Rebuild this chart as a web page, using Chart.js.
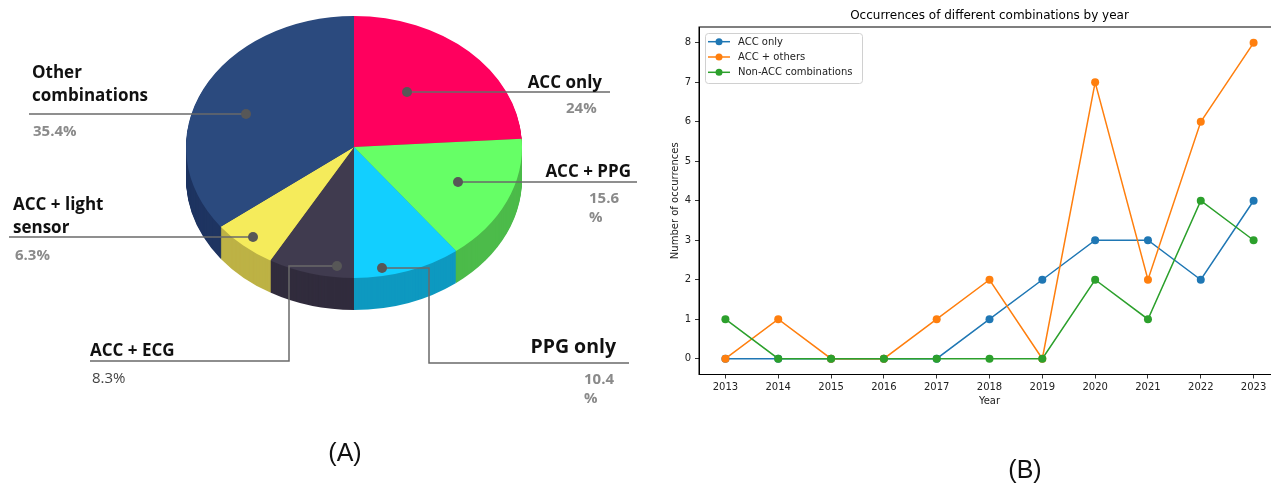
<!DOCTYPE html>
<html>
<head>
<meta charset="utf-8">
<script src="https://cdn.jsdelivr.net/npm/chart.js@4"></script>
<style>
  html, body { margin: 0; padding: 0; background: #fff; overflow: hidden; }
  body { width: 1271px; height: 486px; position: relative; }
  #pieBox { position: absolute; left: 0; top: 0; width: 660px; height: 486px; }
  #lineBox { position: absolute; left: 660px; top: 0; width: 640px; height: 486px; }
  .panel { position: absolute; font-family: "Liberation Sans", Arial, sans-serif; font-size: 25px; color: #111; transform: translate(-50%, -50%); }
</style>
</head>
<body>
<div id="pieBox"><canvas id="pieChart"></canvas></div>
<div id="lineBox"><canvas id="lineChart"></canvas></div>
<div class="panel" style="left:345px; top:452px">(A)</div>
<div class="panel" style="left:1025px; top:469px">(B)</div>
<script>
// ---- data (A) ----
const pieLabels = ['ACC only', 'ACC + PPG', 'PPG only', 'ACC + ECG', 'ACC + light sensor', 'Other combinations'];
const pieShares = [24, 15.6, 10.4, 8.3, 6.3, 35.4];

// ---- data (B) ----
const years = ['2013', '2014', '2015', '2016', '2017', '2018', '2019', '2020', '2021', '2022', '2023'];
const accOnly = [0, 0, 0, 0, 0, 1, 2, 3, 3, 2, 4];
const accOthers = [0, 1, 0, 0, 1, 2, 0, 7, 2, 6, 8];
const nonAcc = [1, 0, 0, 0, 0, 0, 0, 2, 1, 4, 3];
const yTicks = [0, 1, 2, 3, 4, 5, 6, 7, 8];

// pie look
const topColors = ['#FF005E', '#66FF66', '#12CFFF', '#403B4F', '#F5EB5B', '#2B4A7E'];
const sideColors = ['#B8003F', '#4CBB4A', '#0E99C0', '#312C3D', '#BDB245', '#1E3461'];
const PIE_CY = 147;   // screen centre of the top face
const SQUASH = 0.78;  // ellipse ratio
const DEPTH = 32;

// callout layout: label text, where dots / leader lines / texts go
const callouts = [
  { dot: [407, 92], path: [[407, 92], [610, 92]], text: ['ACC only'], tx: 602, ty: [88], align: 'right', px: 566, py: [113] },
  { dot: [458, 182], path: [[458, 182], [637, 182]], text: ['ACC + PPG'], tx: 631, ty: [177], align: 'right', px: 589, py: [203, 222], wrap: true },
  { dot: [382, 268], path: [[382, 268], [429, 268], [429, 363], [629, 363]], text: ['PPG only'], tx: 616, ty: [353], align: 'right', size: 19.5, px: 584, py: [384, 403], wrap: true },
  { dot: [337, 266], path: [[337, 266], [289, 266], [289, 361], [90, 361]], text: ['ACC + ECG'], tx: 90, ty: [356], align: 'left', px: 92, py: [383], plain: true },
  { dot: [253, 237], path: [[253, 237], [9, 237]], text: ['ACC + light', 'sensor'], tx: 13, ty: [210, 233], align: 'left', px: 15, py: [260] },
  { dot: [246, 114], path: [[246, 114], [29, 114]], text: ['Other', 'combinations'], tx: 32, ty: [78, 101], align: 'left', px: 33, py: [136] }
];

const pie3d = {
  id: 'pie3d',
  beforeDatasetsDraw(chart) {
    const ctx = chart.ctx;
    const arcs = chart.getDatasetMeta(0).data;
    const cy = arcs[0].y;
    ctx.save();
    for (let d = DEPTH; d > 0; d--) {
      ctx.save();
      ctx.translate(0, PIE_CY + d);
      ctx.scale(1, SQUASH);
      ctx.translate(0, -cy);
      arcs.forEach((a, i) => {
        ctx.beginPath();
        ctx.moveTo(a.x, a.y);
        ctx.arc(a.x, a.y, a.outerRadius, a.startAngle, a.endAngle);
        ctx.closePath();
        ctx.fillStyle = sideColors[i];
        ctx.fill();
      });
      ctx.restore();
    }
    // top face is drawn by chart.js under this transform
    ctx.translate(0, PIE_CY);
    ctx.scale(1, SQUASH);
    ctx.translate(0, -cy);
  },
  afterDatasetsDraw(chart) {
    chart.ctx.restore();
  },
  afterDraw(chart) {
    const ctx = chart.ctx;
    ctx.save();
    callouts.forEach((c, i) => {
      ctx.strokeStyle = '#6a6a6a';
      ctx.lineWidth = 1.5;
      ctx.beginPath();
      c.path.forEach((p, k) => k ? ctx.lineTo(p[0], p[1]) : ctx.moveTo(p[0], p[1]));
      ctx.stroke();
      ctx.fillStyle = '#575757';
      ctx.beginPath();
      ctx.arc(c.dot[0], c.dot[1], 5, 0, Math.PI * 2);
      ctx.fill();

      ctx.textAlign = c.align;
      ctx.textBaseline = 'alphabetic';
      ctx.fillStyle = '#111';
      ctx.font = `700 ${c.size || 17}px "Open Sans"`;
      c.text.forEach((t, k) => ctx.fillText(t, c.tx, c.ty[k]));

      const pct = c.wrap ? [String(pieShares[i]), '%'] : [pieShares[i] + '%'];
      ctx.textAlign = 'left';
      ctx.fillStyle = c.plain ? '#444' : '#8a8a8a';
      ctx.font = `${c.plain ? 400 : 700} 15px "Open Sans"`;
      pct.forEach((t, k) => ctx.fillText(t, c.px, c.py[k]));
    });
    ctx.restore();
  }
};

new Chart(document.getElementById('pieChart'), {
  type: 'pie',
  data: {
    labels: pieLabels,
    datasets: [{ data: pieShares, backgroundColor: topColors, borderWidth: 0 }]
  },
  options: {
    animation: false,
    responsive: true,
    maintainAspectRatio: false,
    events: [],
    layout: { padding: { left: 186, right: 138, top: 0, bottom: 150 } },
    plugins: { legend: { display: false }, tooltip: { enabled: false } }
  },
  plugins: [pie3d]
});

// ---- line chart ----
const mplFont = { family: 'DejaVu Sans', size: 10 };
const tickGrid = { display: true, drawOnChartArea: false, drawTicks: true, tickLength: 4, color: '#000', lineWidth: 0.8 };

const mplFrame = {
  id: 'mplFrame',
  afterDatasetsDraw(chart) {
    const { ctx, chartArea: a } = chart;
    const bx = a.left + 6, by = a.top + 6, bw = 157, bh = 50;
    ctx.save();
    ctx.fillStyle = 'rgba(255,255,255,0.8)';
    ctx.strokeStyle = '#d0d0d0';
    ctx.lineWidth = 1;
    ctx.beginPath();
    ctx.roundRect(bx + 0.5, by + 0.5, bw, bh, 3);
    ctx.fill();
    ctx.stroke();
    chart.data.datasets.forEach((ds, i) => {
      const y = by + 8.7 + i * 15.3;
      ctx.strokeStyle = ds.borderColor;
      ctx.lineWidth = 1.5;
      ctx.beginPath();
      ctx.moveTo(bx + 3, y);
      ctx.lineTo(bx + 25, y);
      ctx.stroke();
      ctx.fillStyle = ds.borderColor;
      ctx.beginPath();
      ctx.arc(bx + 14, y, 3.5, 0, Math.PI * 2);
      ctx.fill();
      ctx.fillStyle = '#222';
      ctx.font = '10px "DejaVu Sans"';
      ctx.textBaseline = 'middle';
      ctx.textAlign = 'left';
      ctx.fillText(ds.label, bx + 33, y + 0.5);
    });
    ctx.restore();
  },
  afterDraw(chart) {
    const { ctx, chartArea: a } = chart;
    ctx.save();
    ctx.strokeStyle = '#000';
    ctx.lineWidth = 1;
    ctx.strokeRect(a.left, a.top, a.right - a.left, a.bottom - a.top);
    ctx.fillStyle = '#000';
    ctx.font = '12px "DejaVu Sans"';
    ctx.textAlign = 'center';
    ctx.textBaseline = 'middle';
    ctx.fillText('Occurrences of different combinations by year', (a.left + a.right) / 2, 16);
    ctx.restore();
  }
};

const lineDs = (label, data, color, order) => ({
  label, data, order,
  borderColor: color,
  backgroundColor: color,
  pointBackgroundColor: color,
  pointBorderColor: color,
  borderWidth: 1.5,
  pointRadius: 4,
  pointBorderWidth: 0,
  tension: 0
});

new Chart(document.getElementById('lineChart'), {
  type: 'line',
  data: {
    labels: years,
    datasets: [
      lineDs('ACC only', accOnly, '#1f77b4', 2),
      lineDs('ACC + others', accOthers, '#ff7f0e', 1),
      lineDs('Non-ACC combinations', nonAcc, '#2ca02c', 0)
    ]
  },
  options: {
    animation: false,
    responsive: true,
    maintainAspectRatio: false,
    events: [],
    layout: { padding: { top: 27, right: 20, bottom: 79, left: 0 } },
    plugins: { legend: { display: false }, tooltip: { enabled: false } },
    scales: {
      x: {
        type: 'category',
        offset: true,
        grid: tickGrid,
        border: { display: true, color: '#000', width: 1 },
        ticks: { font: mplFont, color: '#222', padding: 3, maxRotation: 0, autoSkip: false },
        title: { display: true, text: 'Year', font: mplFont, color: '#222', padding: { top: 0, bottom: 0 } },
        afterFit: s => { s.height = 32.5; }
      },
      y: {
        min: -0.4,
        max: 8.4,
        grid: tickGrid,
        border: { display: true, color: '#000', width: 1 },
        afterBuildTicks: s => { s.ticks = yTicks.map(v => ({ value: v })); },
        ticks: { font: mplFont, color: '#222', padding: 4 },
        title: { display: true, text: 'Number of occurrences', font: mplFont, color: '#222', padding: { top: 9, bottom: 0 } },
        afterFit: s => { s.width = 39; }
      }
    }
  },
  plugins: [mplFrame]
});
</script>
</body>
</html>
